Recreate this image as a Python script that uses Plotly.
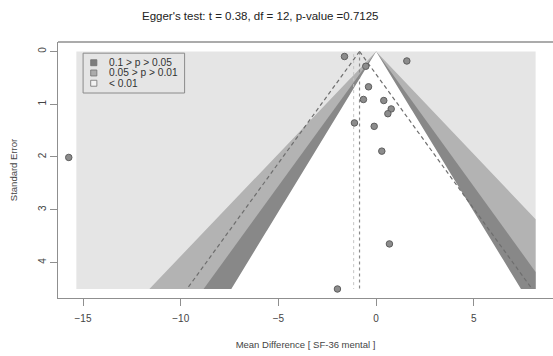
import numpy as np
import plotly.graph_objects as go

# Study-level effects (mean difference, SF-36 mental) and their standard errors
md = [-1.62, 1.57, -0.53, -0.39, -0.65, 0.39, 0.77, 0.60, -1.11, -0.10, 0.29, 0.68, -1.98, -15.73]
se = [0.095, 0.18, 0.28, 0.67, 0.91, 0.93, 1.09, 1.18, 1.355, 1.42, 1.89, 3.65, 4.505, 2.01]

pooled_md = -0.85      # pooled estimate (dashed 95% funnel centre)
alt_md = -1.15         # secondary reference line
se_max = 4.505
shade_xmin, shade_xmax = -15.34, 8.16

# contour levels: z values and fill colours (outermost first)
contour_z = [2.576, 1.96, 1.645]
contour_fill = ["#b3b3b3", "#888888", "#ffffff"]
legend_labels = ["0.1 > p > 0.05", "0.05 > p > 0.01", "< 0.01"]
legend_fill = ["#7d7d7d", "#ababab", "#f2f2f2"]

x_ticks = [-15, -10, -5, 0, 5]
y_ticks = [0, 1, 2, 3, 4]
title_text = "Egger's test: t = 0.38, df = 12, p-value =0.7125"

W, H = 553, 356
L, R, T, B = 57.6, 0, 41.5, 57.5
x_range = [-16.28, 9.05]
y_range = [4.676, -0.18]

fig = go.Figure()

# background region (p < 0.01)
fig.add_trace(go.Scatter(
    x=[shade_xmin, shade_xmax, shade_xmax, shade_xmin, shade_xmin],
    y=[0, 0, se_max, se_max, 0],
    fill="toself", fillcolor="#e5e5e5", line=dict(width=0),
    mode="lines", hoverinfo="skip", showlegend=False))

# nested contour funnels centred on zero, clipped to the shaded rectangle
s = np.linspace(0, se_max, 600)
for z, col in zip(contour_z, contour_fill):
    right = np.clip(z * s, shade_xmin, shade_xmax)
    left = np.clip(-z * s, shade_xmin, shade_xmax)
    xs = np.concatenate([right, left[::-1]])
    ys = np.concatenate([s, s[::-1]])
    fig.add_trace(go.Scatter(x=xs, y=ys, fill="toself", fillcolor=col,
                             line=dict(width=0), mode="lines",
                             hoverinfo="skip", showlegend=False))

# pseudo 95% confidence funnel around the pooled estimate
for sign in (-1, 1):
    fig.add_trace(go.Scatter(
        x=[pooled_md, pooled_md + sign * 1.96 * se_max], y=[0, se_max],
        mode="lines", line=dict(color="#6e6e6e", width=1.2, dash="4px,3px"),
        hoverinfo="skip", showlegend=False))

# vertical reference lines
fig.add_trace(go.Scatter(x=[alt_md, alt_md], y=[0.05, se_max], mode="lines",
                         line=dict(color="#c4c4c4", width=1, dash="dot"),
                         hoverinfo="skip", showlegend=False))
fig.add_trace(go.Scatter(x=[pooled_md, pooled_md], y=[0, se_max], mode="lines",
                         line=dict(color="#8a8a8a", width=1.2, dash="dot"),
                         hoverinfo="skip", showlegend=False))

# studies
fig.add_trace(go.Scatter(x=md, y=se, mode="markers",
                         marker=dict(size=6.5, color="#8c8c8c",
                                     line=dict(color="#5e5e5e", width=1)),
                         showlegend=False))

pw, ph = W - L - R, H - T - B


def px(xp):
    return (xp - L) / pw


def py(yp):
    return 1 - (yp - T) / ph


shapes = [
    # top frame line
    dict(type="line", xref="paper", yref="paper", x0=0, x1=1.02, y0=1, y1=1,
         line=dict(color="#8f8f8f", width=1.3)),
    # legend box
    dict(type="rect", xref="paper", yref="paper",
         x0=px(82.7), x1=px(184.3), y0=py(92.7), y1=py(52.7),
         line=dict(color="#8a8a8a", width=1), fillcolor="rgba(0,0,0,0)"),
]
annotations = [
    dict(text=title_text, xref="paper", yref="paper", x=(260 - L) / pw,
         y=py(15), showarrow=False, xanchor="center", yanchor="middle",
         font=dict(size=11.5, color="#222222")),
]
for i, (lab, col) in enumerate(zip(legend_labels, legend_fill)):
    yc = 62.3 + i * 10.3
    shapes.append(dict(type="rect", xref="paper", yref="paper",
                       x0=px(90.3), x1=px(96.5), y0=py(yc + 3), y1=py(yc - 3),
                       line=dict(color="#707070", width=0.8), fillcolor=col))
    annotations.append(dict(text=lab, xref="paper", yref="paper", x=px(106.5),
                            y=py(yc), showarrow=False, xanchor="left",
                            yanchor="middle",
                            font=dict(size=10.2, color="#333333")))

axis_font = dict(family="Liberation Sans, Arial, sans-serif", size=10, color="#444444")

fig.update_layout(
    width=W, height=H,
    margin=dict(l=L, r=R, t=T, b=B, pad=0),
    paper_bgcolor="white", plot_bgcolor="white",
    font=dict(family="Liberation Sans, Arial, sans-serif"),
    shapes=shapes, annotations=annotations,
    xaxis=dict(range=x_range, tickvals=x_ticks, ticks="outside", ticklen=7,
               tickcolor="#8f8f8f", tickwidth=1, showgrid=False, zeroline=False,
               showline=True, linecolor="#8f8f8f", linewidth=1.3,
               tickfont=axis_font, ticklabelstandoff=4,
               title=dict(text="Mean Difference [ SF-36 mental ]",
                          font=dict(size=9.5, color="#444444"), standoff=18)),
    yaxis=dict(range=y_range, tickvals=y_ticks, ticks="outside", ticklen=7,
               tickcolor="#8f8f8f", tickwidth=1, showgrid=False, zeroline=False,
               showline=True, linecolor="#8f8f8f", linewidth=1.3,
               tickangle=-90, tickfont=axis_font,
               title=dict(text="Standard Error",
                          font=dict(size=9.5, color="#444444"), standoff=17)),
)

fig.write_html("out.html")
